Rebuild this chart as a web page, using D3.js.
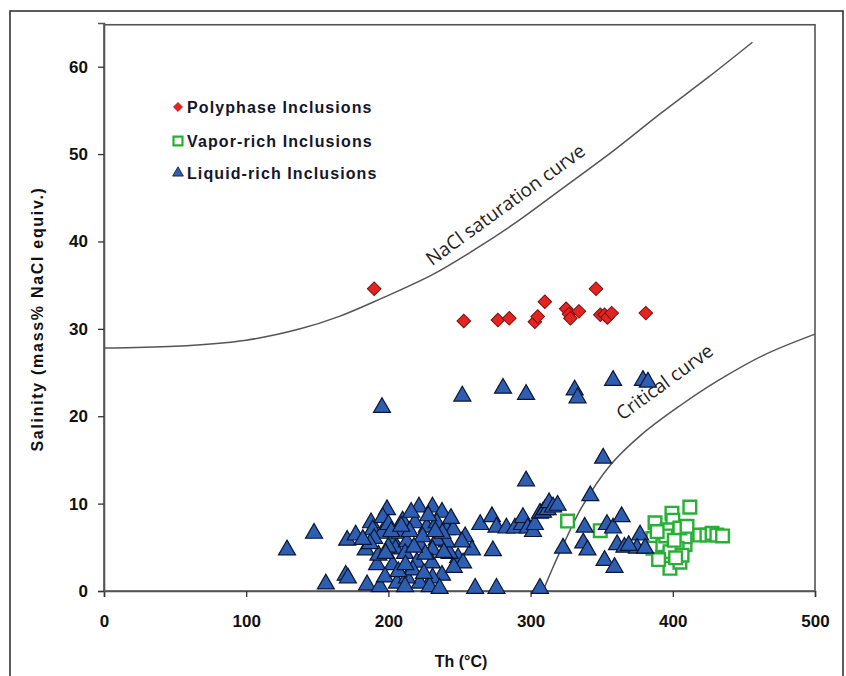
<!DOCTYPE html>
<html>
<head>
<meta charset="utf-8">
<script src="https://cdn.jsdelivr.net/npm/d3@7"></script>
<style>
  body { margin: 0; background: #fff; }
  svg { display: block; }
  .tick-label { font-family: "Liberation Sans", Arial, sans-serif; font-weight: bold; font-size: 17px; fill: #111; }
  .axis-title { font-family: "Liberation Sans", Arial, sans-serif; font-weight: bold; font-size: 16px; fill: #111; }
  .legend-text { font-family: "Liberation Sans", Arial, sans-serif; font-weight: bold; font-size: 16px; letter-spacing: 1.1px; fill: #15152a; }
  .curve-label { font-family: "Open Sans", sans-serif; font-size: 19px; fill: #222; }
</style>
</head>
<body>
<div id="chart"></div>
<script>
//// data: [Th (°C), salinity (mass% NaCl equiv.)]
const polyphase = [
  [190, 34.6], [253, 30.9], [277, 31.0], [285, 31.2], [303, 30.8], [305, 31.4],
  [310, 33.1], [325, 32.3], [327, 31.7], [328, 31.2], [334, 32.0], [346, 34.6],
  [349, 31.6], [352, 31.6], [354, 31.3], [357, 31.8], [381, 31.8]
];

const vaporRich = [
  [326, 8.0], [349, 6.9], [412, 9.6], [399.4, 8.9], [400, 8.1], [387.5, 7.8],
  [386, 6.0], [386, 4.9], [393, 3.9], [398, 2.6], [405, 3.3], [408.6, 5.3],
  [408.6, 6.2], [396, 7.0], [405, 7.2], [403, 4.9], [393, 5.3], [398, 4.5],
  [406.5, 4.1], [390, 3.6], [395, 6.3], [401, 5.8], [402, 3.8], [410, 7.4],
  [389, 6.8], [419, 6.4], [424, 6.4], [427.6, 6.6], [431, 6.4], [435, 6.3]
];

const liquidRich = [
  // upper scatter
  [195.5, 21.0], [252, 22.3], [280.6, 23.2], [296.8, 22.5], [331, 23.0], [333, 22.1],
  [358, 24.1], [379, 24.1], [382.5, 23.9], [296.8, 12.6], [351, 15.2], [342, 10.9],
  // left cluster
  [128.7, 4.7], [147.7, 6.6], [156, 0.8], [170, 1.8], [171.5, 1.5], [171, 5.8],
  [177, 6.4], [187.8, 7.8], [199, 9.3], [184, 4.7], [192, 3.0], [203, 3.0],
  [185, 0.7], [194, 0.5], [197.6, 1.6], [206, 0.9], [189, 7.0], [195.5, 6.6],
  [203, 5.8], [193, 4.1], [190, 6.0], [196, 8.4], [200, 7.6], [205, 4.8],
  [208, 6.6], [210, 8.0], [213, 5.6], [211.7, 4.3], [218.7, 7.8], [221.5, 9.6],
  [231, 9.6], [237.7, 9.0], [227, 7.3], [234, 7.8], [241, 7.0], [245.6, 7.0],
  [254, 6.2], [258.8, 4.7], [251.7, 5.6], [249, 3.8], [252.5, 3.2], [243, 4.3],
  [241, 5.6], [234, 5.8], [231, 4.7], [222, 5.3], [220, 3.3], [230.6, 3.2],
  [237.7, 1.8], [231, 1.5], [222, 0.9], [213, 1.5], [211.7, 0.5], [229, 0.5],
  [236, 0.3], [261, 0.3], [276, 0.3], [306.6, 0.3],
  [215, 6.8], [224, 6.2], [226, 4.2], [217, 2.4], [207, 2.2], [200, 5.0],
  [228, 8.6], [238, 6.6], [244, 8.3], [216, 9.0], [202, 6.8], [225, 2.0],
  [233, 6.8], [218, 5.0], [209, 7.4], [198, 4.3], [187, 5.4], [239, 4.4],
  [246, 2.7], [212, 3.0], [182, 5.9],
  // middle band
  [264.6, 7.6], [272.8, 8.5], [276, 7.3], [283, 7.2], [289, 7.2], [294, 7.6],
  [294.6, 8.4], [298, 7.2], [301.7, 6.8], [303, 7.6], [306.6, 8.9], [308.7, 9.0],
  [310, 9.3], [312, 9.3], [313, 10.1], [315.8, 9.6], [319, 9.8], [273.5, 4.6],
  // right of critical curve
  [322.8, 4.9], [338, 7.3], [337, 5.5], [340, 4.7], [352, 3.5], [359, 2.7],
  [353.7, 7.6], [358, 7.2], [364, 8.5], [360.8, 5.3], [366, 5.0], [377, 6.4],
  [374.8, 4.9], [380.5, 4.9], [369, 5.2]
];

//// reference curves
const saturationCurve = [
  [0, 27.8], [50, 28.0], [100, 28.7], [138, 30.0], [165, 31.4], [194, 33.4],
  [231, 36.2], [260, 39.0], [290, 42.2], [321, 45.9], [360, 50.6], [391, 54.6],
  [425, 58.8], [456, 62.8]
];
const criticalCurve = [
  [308.7, 0], [316, 2.8], [323, 5.3], [336, 9.6], [356, 14.4], [378, 17.9],
  [405, 21.2], [432, 24.1], [464, 27.0], [500, 29.4]
];

const xTicks = [0, 100, 200, 300, 400, 500];
const yTicks = [0, 10, 20, 30, 40, 50, 60];

const legendItems = ['Polyphase Inclusions', 'Vapor-rich Inclusions', 'Liquid-rich Inclusions'];

//// layout
const W = 846, H = 676;
const plot = { left: 104, right: 815, top: 23, bottom: 591 };

const svg = d3.select('#chart').append('svg')
  .attr('width', W)
  .attr('height', H);

// outer frame
svg.append('rect')
  .attr('x', 10).attr('y', 11)
  .attr('width', 833).attr('height', 680)
  .attr('fill', 'none')
  .attr('stroke', '#333')
  .attr('stroke-width', 1.6);

const x = d3.scaleLinear().domain([0, 500]).range([plot.left, plot.right]);
const y = d3.scaleLinear().domain([0, 65]).range([plot.bottom, plot.top]);

// plot box
svg.append('rect')
  .attr('x', plot.left).attr('y', y(64.8))
  .attr('width', plot.right - plot.left)
  .attr('height', plot.bottom - y(64.8))
  .attr('fill', 'none')
  .attr('stroke', '#555')
  .attr('stroke-width', 1.6);

//// axes
const xAxis = svg.append('g')
  .attr('transform', `translate(0,${plot.bottom})`)
  .call(d3.axisBottom(x).tickValues(xTicks).tickSize(6).tickPadding(18).tickFormat(d3.format('d')));
const yAxis = svg.append('g')
  .attr('transform', `translate(${plot.left},0)`)
  .call(d3.axisLeft(y).tickValues(yTicks).tickSize(6).tickPadding(10).tickFormat(d3.format('d')));

[xAxis, yAxis].forEach(g => {
  g.select('.domain').attr('stroke', '#555').attr('stroke-width', 1.6);
  g.selectAll('.tick line').attr('stroke', '#333').attr('stroke-width', 1.3);
  g.selectAll('.tick text').attr('class', 'tick-label').attr('font-family', null).attr('font-size', null);
});

svg.append('text')
  .attr('class', 'axis-title')
  .attr('x', 461).attr('y', 667)
  .attr('text-anchor', 'middle')
  .text('Th (°C)');

svg.append('text')
  .attr('class', 'axis-title')
  .attr('transform', `translate(43,${319}) rotate(-90)`)
  .attr('text-anchor', 'middle')
  .style('letter-spacing', '1.7px')
  .text('Salinity (mass% NaCl equiv.)');

//// curves
const line = d3.line()
  .x(d => x(d[0]))
  .y(d => y(d[1]))
  .curve(d3.curveCatmullRom.alpha(0.5));

svg.append('path')
  .attr('d', line(saturationCurve))
  .attr('fill', 'none')
  .attr('stroke', '#555')
  .attr('stroke-width', 1.5);

svg.append('path')
  .attr('d', line(criticalCurve))
  .attr('fill', 'none')
  .attr('stroke', '#555')
  .attr('stroke-width', 1.5);

svg.append('text')
  .attr('class', 'curve-label')
  .attr('text-anchor', 'middle')
  .attr('transform', `translate(${x(285)},${y(43.6)}) rotate(-36)`)
  .text('NaCl  saturation curve');

svg.append('text')
  .attr('class', 'curve-label')
  .attr('text-anchor', 'middle')
  .attr('transform', `translate(${x(397)},${y(23.3)}) rotate(-36)`)
  .text('Critical curve');

//// markers
const diamond = d3.symbol(d3.symbolSquare, 92);
const square = d3.symbol(d3.symbolSquare, 160);
const triangle = d3.symbol(d3.symbolTriangle, 125);

svg.append('g').selectAll('path')
  .data(vaporRich)
  .join('path')
  .attr('d', square)
  .attr('transform', d => `translate(${x(d[0])},${y(d[1])})`)
  .attr('fill', '#fff')
  .attr('stroke', '#27b035')
  .attr('stroke-width', 2.4);

svg.append('g').selectAll('path')
  .data(liquidRich)
  .join('path')
  .attr('d', triangle)
  .attr('transform', d => `translate(${x(d[0])},${y(d[1])})`)
  .attr('fill', '#2d5eb2')
  .attr('stroke', '#0b1530')
  .attr('stroke-width', 1.2);

svg.append('g').selectAll('path')
  .data(polyphase)
  .join('path')
  .attr('d', diamond)
  .attr('transform', d => `translate(${x(d[0])},${y(d[1])}) rotate(45)`)
  .attr('fill', '#e52321')
  .attr('stroke', '#7a1010')
  .attr('stroke-width', 1);

//// legend
const legend = svg.append('g').attr('transform', 'translate(178,107)');
const legendRow = legend.selectAll('g')
  .data(legendItems)
  .join('g')
  .attr('transform', (d, i) => `translate(0,${[0, 34, 66][i]})`);

legendRow.append('path')
  .attr('d', (d, i) => [d3.symbol(d3.symbolSquare, 40)(), d3.symbol(d3.symbolSquare, 80)(), d3.symbol(d3.symbolTriangle, 50)()][i])
  .attr('transform', (d, i) => i === 0 ? 'rotate(45)' : null)
  .attr('fill', (d, i) => ['#e52321', '#fff', '#2d5eb2'][i])
  .attr('stroke', (d, i) => ['#b01515', '#27b035', '#0b1530'][i])
  .attr('stroke-width', (d, i) => i === 1 ? 2.2 : 0.8);

legendRow.append('text')
  .attr('class', 'legend-text')
  .attr('x', 9)
  .attr('y', 6)
  .text(d => d);
</script>
</body>
</html>
